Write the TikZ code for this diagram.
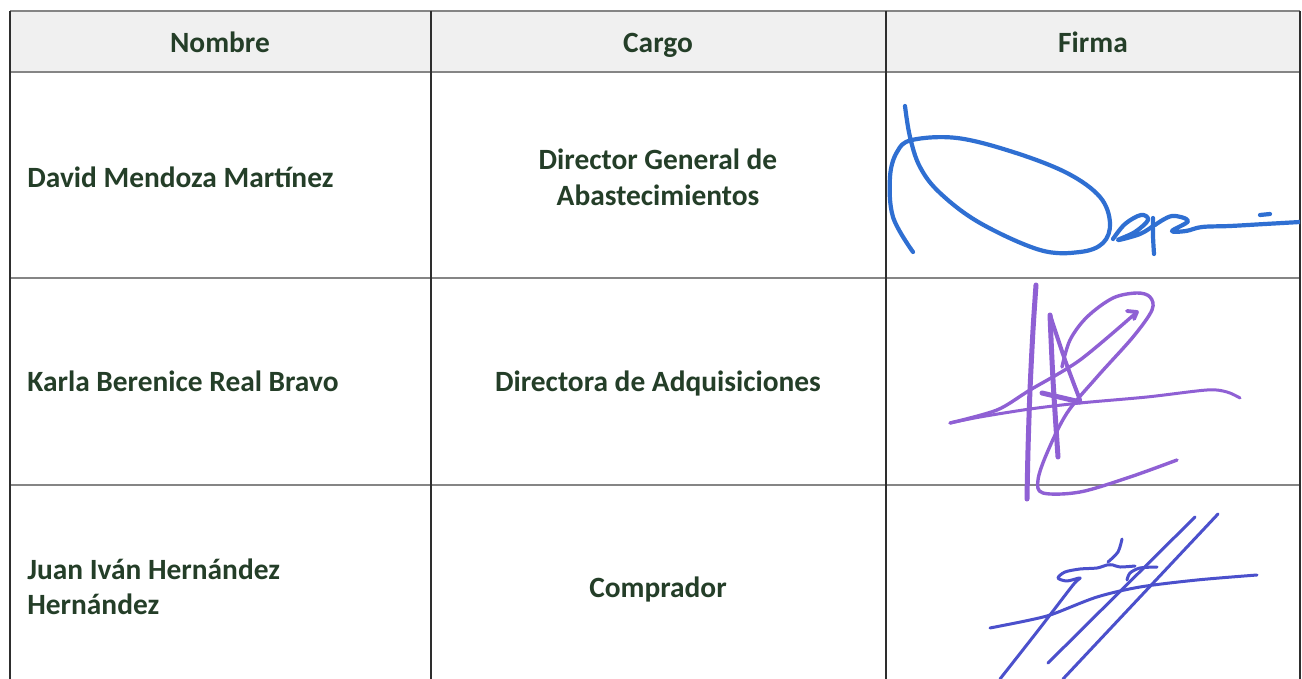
\documentclass[tikz,border=0pt]{standalone}
\usepackage{fontspec}
\setmainfont{Carlito}
\begin{document}
\begin{tikzpicture}[x=0.5pt,y=-0.5pt,
  txt/.style={inner sep=0pt,anchor=base,text=tgreen,font=\fontsize{14.7}{18}\selectfont\bfseries},
  ltxt/.style={txt,anchor=base west},
  hrule/.style={draw=rulegray,line width=1pt},
  vrule/.style={draw=vrulecol,line width=0.9pt},
  sigA/.style={draw=sigblue,line width=2.1pt,line cap=round,line join=round},
  sigB/.style={draw=sigpurple,line width=2.5pt,line cap=round,line join=round},
  sigC/.style={draw=sigviolet,line width=1.5pt,line cap=round,line join=round}]
\definecolor{tgreen}{HTML}{243E28}
\definecolor{rulegray}{HTML}{858585}
\definecolor{vrulecol}{HTML}{2E2E2E}
\definecolor{headfill}{HTML}{F0F0F0}
\definecolor{sigblue}{HTML}{2F6FD2}
\definecolor{sigpurple}{HTML}{8F60D4}
\definecolor{sigviolet}{HTML}{4B50CC}
\useasboundingbox (0,0) rectangle (1302,679);
\fill[white] (0,0) rectangle (1302,679);
\begin{scope}
\clip (0,0) rectangle (1302,679);
% header
\fill[headfill] (10,11) rectangle (1300,72);
\draw[hrule] (10,11) -- (1300,11);
\draw[hrule] (10,72) -- (1300,72);
\draw[hrule] (10,278) -- (1300,278);
\draw[hrule] (10,485) -- (1300,485);
\draw[vrule] (10,11) -- (10,690);
\draw[vrule] (431,11) -- (431,690);
\draw[vrule] (886,11) -- (886,690);
\draw[vrule] (1300,11) -- (1300,690);
\end{scope}
% header texts
\node[txt] (h1) at (220,53) {Nombre};
\node[txt] (h2) at (658,53) {Cargo};
\node[txt] (h3) at (1093,53) {Firma};
% row 1
\node[ltxt] (n1) at (27,188) {David Mendoza Martínez};
\node[txt] (c1a) at (658,170) {Director General de};
\node[txt] (c1b) at (658,206) {Abastecimientos};
% row 2
\node[ltxt] (n2) at (27,392) {Karla Berenice Real Bravo};
\node[txt] (c2) at (658,392) {Directora de Adquisiciones};
% row 3
\node[ltxt] (n3a) at (27,579) {Juan Iván Hernández};
\node[ltxt] (n3b) at (27,614) {Hernández};
\node[txt] (c3) at (658,597) {Comprador};
% signature 1
\begin{scope}
\clip (887,73) rectangle (1300,277);
\draw[sigA] plot[smooth,tension=0.6] coordinates {(905,106) (910,137) (920,167) (940,193) (980,223) (1040,250) (1080,252) (1103,243) (1110,223) (1100,197) (1067,173) (1013,152) (957,138) (912,140) (897,152) (890,177) (893,217) (913,252)};
\draw[sigA] plot[smooth,tension=0.6] coordinates {(1113,239) (1125,224) (1141,215) (1148,220) (1135,232) (1118,240) (1140,234) (1153,226)};
\draw[sigA] plot[smooth,tension=0.5] coordinates {(1153,218) (1153,236) (1154,254)};
\draw[sigA] plot[smooth,tension=0.6] coordinates {(1155,225) (1172,216) (1188,221) (1172,231) (1186,231) (1202,227) (1230,226) (1265,224) (1300,222)};
\draw[sigA] (1260,215) -- (1270,214);
\end{scope}
% signature 2
\begin{scope}
\clip (887,279) rectangle (1300,679);
\draw[sigB] plot[smooth,tension=0.5] coordinates {(1036,285) (1033,330) (1030,390) (1028,450) (1027,499)};
\draw[sigB] plot[smooth,tension=0.5] coordinates {(1050,315) (1053,380) (1058,457)};
\draw[sigB,line width=2pt] plot[smooth,tension=0.5] coordinates {(1050,315) (1065,360) (1080,400)};
\draw[sigB] (1042,393) -- (1080,402);
\draw[sigB,line width=1.7pt] plot[smooth,tension=0.5] coordinates {(950,423) (997,410) (1030,390) (1080,360) (1137,312)};
\draw[sigB,line width=1.9pt] (1127,311) -- (1137,312) -- (1134,319);
\draw[sigB,line width=1.5pt] plot[smooth,tension=0.5] coordinates {(950,423) (980,417) (1030,409) (1080,403) (1147,397) (1207,390) (1227,392) (1240,398)};
\draw[sigB,line width=1.7pt] plot[smooth,tension=0.55] coordinates {(1177,460) (1130,477) (1080,492) (1043,493) (1038,480) (1047,453) (1067,413) (1097,377) (1133,337) (1152,310) (1150,297) (1137,293) (1113,298) (1087,317) (1070,340) (1062,367)};
\end{scope}
% signature 3
\begin{scope}
\clip (887,486) rectangle (1300,679);
\draw[sigC] plot[smooth,tension=0.5] coordinates {(990,628) (1030,620) (1053,614) (1097,597) (1140,587) (1197,580) (1257,575)};
\draw[sigC] plot[smooth,tension=0.5] coordinates {(1000,679) (1040,628) (1073,585) (1080,578) (1067,581) (1058,578) (1065,572) (1080,569) (1097,568) (1107,565) (1113,565) (1120,567) (1135,566)};
\draw[sigC] plot[smooth,tension=0.5] coordinates {(1122,539) (1118,552) (1108,562)};
\draw[sigC] plot[smooth,tension=0.5] coordinates {(1127,580) (1130,573) (1140,568) (1157,567)};
\draw[sigC] (1048,663) -- (1195,517);
\draw[sigC] (1063,679) -- (1218,514);
\end{scope}
\end{tikzpicture}
\end{document}
